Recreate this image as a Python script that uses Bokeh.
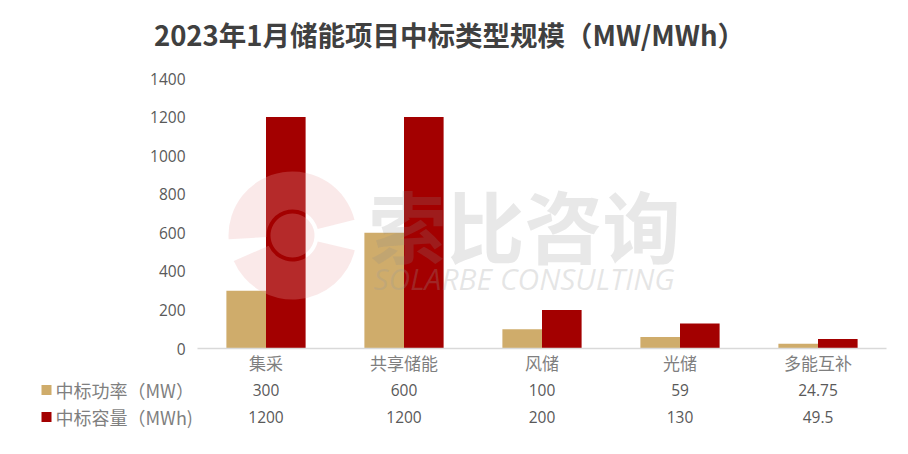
from bokeh.plotting import figure
from bokeh.models import ColumnDataSource, Range1d
from bokeh.core.properties import value
from bokeh.embed import file_html
from bokeh.resources import INLINE

# ---------------- data ----------------
title_text = "2023年1月储能项目中标类型规模（MW/MWh）"
categories = ["集采", "共享储能", "风储", "光储", "多能互补"]
power_mw = [300, 600, 100, 59, 24.75]
capacity_mwh = [1200, 1200, 200, 130, 49.5]
power_labels = ["300", "600", "100", "59", "24.75"]
capacity_labels = ["1200", "1200", "200", "130", "49.5"]
series_names = ["中标功率（MW）", "中标容量（MWh)"]
y_ticks = [0, 200, 400, 600, 800, 1000, 1200, 1400]

# ---------------- layout ----------------
W, H = 908, 454
X0_PX, STEP_PX = 265.5, 138.0      # pixel of first category centre, category spacing
Y0_PX, PX_PER_UNIT = 348.0, 270.0 / 1400.0

def dx(px):
    return (px - X0_PX) / STEP_PX

def dy(py):
    return (Y0_PX - py) / PX_PER_UNIT

GOLD = "#CFAC6B"
RED = "#A30000"
CJK = value("Noto Sans CJK SC")
NUM = value("Open Sans")

idx = list(range(len(categories)))
bw = 0.287
src = ColumnDataSource(dict(
    xp=[i - bw / 2 for i in idx],
    xc=[i + bw / 2 for i in idx],
    x=idx,
    cat=categories,
    power=power_mw,
    cap=capacity_mwh,
    pl=power_labels,
    cl=capacity_labels,
))

p = figure(width=W, height=H, output_backend="svg", toolbar_location=None,
           x_range=Range1d(dx(0), dx(W)), y_range=Range1d(dy(H), dy(0)),
           x_axis_type=None, y_axis_type=None, min_border=0,
           outline_line_color=None, background_fill_color="white",
           border_fill_color="white")
p.grid.visible = False

# bars
p.vbar(x="xp", top="power", width=bw, bottom=0, source=src, fill_color=GOLD, line_color=None)
p.vbar(x="xc", top="cap", width=bw, bottom=0, source=src, fill_color=RED, line_color=None)

# baseline (x axis)
p.segment(x0=[dx(197)], x1=[dx(886)], y0=[0], y1=[0], line_color="#d9d9d9", line_width=1.5)

# y tick labels
p.text(x=[dx(185)] * len(y_ticks), y=y_ticks, text=[str(t) for t in y_ticks],
       text_align="right", text_baseline="middle", text_font=NUM,
       text_font_size="15.5px", text_color="#595959")

# category labels
p.text(x="x", y=dy(362), text="cat", source=src, text_align="center",
       text_baseline="middle", text_font=CJK, text_font_size="17px", text_color="#7f7f7f")

# data table values
p.text(x="x", y=dy(389), text="pl", source=src, text_align="center",
       text_baseline="middle", text_font=NUM, text_font_size="15.5px", text_color="#595959")
p.text(x="x", y=dy(416), text="cl", source=src, text_align="center",
       text_baseline="middle", text_font=NUM, text_font_size="15.5px", text_color="#595959")

# table legend swatches + row labels
p.rect(x=[dx(46), dx(46)], y=[dy(389.5), dy(416.5)], width=10, height=10,
       width_units="screen", height_units="screen", fill_color=[GOLD, RED], line_color=None)
p.text(x=[dx(55), dx(55)], y=[dy(389), dy(416)], text=series_names,
       text_align="left", text_baseline="middle", text_font=CJK,
       text_font_size="18px", text_color="#7f7f7f")

# title
p.text(x=[dx(449)], y=[dy(33)], text=[title_text], text_align="center",
       text_baseline="middle", text_font=CJK, text_font_size="27.5px",
       text_font_style="bold", text_color="#404040")

# watermark
p.annular_wedge(x=[dx(292)] * 3, y=[dy(235)] * 3,
                inner_radius=[26, 26, 0], outer_radius=[64, 64, 22],
                inner_radius_units="screen", outer_radius_units="screen",
                start_angle=[0.25, 3.55, 0.0], end_angle=[3.2, 6.05, 6.283],
                fill_color="#eba9a9", fill_alpha=0.25, line_color=None)
p.text(x=[dx(368)], y=[dy(223)], text=["索比咨询"], text_align="left",
       text_baseline="middle", text_font=CJK, text_font_size="78px",
       text_font_style="bold", text_color="#8a8a8a", text_alpha=0.2)
p.text(x=[dx(373)], y=[dy(278)], text=["SOLARBE CONSULTING"], text_align="left",
       text_baseline="middle", text_font=value("Open Sans"), text_font_size="30px",
       text_font_style="italic", text_color="#9a9a9a", text_alpha=0.25)

open("out.html", "w").write(file_html(p, INLINE))
